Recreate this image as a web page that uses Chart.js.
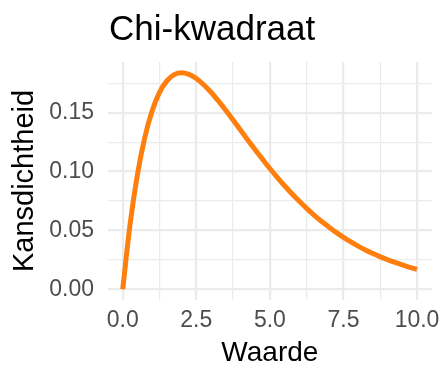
<!DOCTYPE html>
<html>
<head>
<meta charset="utf-8">
<script src="https://cdn.jsdelivr.net/npm/chart.js@4.4.0/dist/chart.umd.min.js"></script>
<style>
    html, body { margin: 0; padding: 0; background: #ffffff; }
    #wrap { width: 447px; height: 384px; position: relative; }
</style>
</head>
<body>
<div id="wrap"><canvas id="chiChart"></canvas></div>
<script>
// Waarden
const xValues = [0, 0.25, 0.5, 0.75, 1, 1.25, 1.5, 1.75, 2, 2.25, 2.5, 2.75, 3, 3.25, 3.5, 3.75,
    4, 4.25, 4.5, 4.75, 5, 5.25, 5.5, 5.75, 6, 6.25, 6.5, 6.75, 7, 7.25, 7.5, 7.75,
    8, 8.25, 8.5, 8.75, 9, 9.25, 9.5, 9.75, 10];
const densityValues = [0, 0.0552, 0.0974, 0.1289, 0.1516, 0.1673, 0.1771, 0.1824, 0.1839, 0.1826,
    0.1791, 0.1738, 0.1674, 0.1600, 0.1521, 0.1438, 0.1353, 0.1269, 0.1186, 0.1105,
    0.1026, 0.0951, 0.0879, 0.0811, 0.0747, 0.0687, 0.0630, 0.0577, 0.0529, 0.0483,
    0.0441, 0.0402, 0.0366, 0.0333, 0.0303, 0.0275, 0.0250, 0.0227, 0.0206, 0.0186, 0.0168];
const xTicks = [0, 1.25, 2.5, 3.75, 5, 6.25, 7.5, 8.75, 10];
const yTicks = [0, 0.025, 0.05, 0.075, 0.1, 0.125, 0.15, 0.175];
const xMajor = [0, 2.5, 5, 7.5, 10];
const yMajor = [0, 0.05, 0.1, 0.15];

const gridColor = '#EBEBEB';
const tickColor = '#4D4D4D';
const fontFamily = '"Liberation Sans", Arial, sans-serif';

const isMajor = (list, v) => list.some(m => Math.abs(m - v) < 1e-9);

// Titel linksboven, uitgelijnd met het paneel
const titlePlugin = {
    id: 'ggTitle',
    afterDraw(chart) {
        const ctx = chart.ctx;
        ctx.save();
        ctx.fillStyle = '#000000';
        ctx.font = '35px ' + fontFamily;
        ctx.textAlign = 'left';
        ctx.textBaseline = 'alphabetic';
        ctx.fillText('Chi-kwadraat', chart.chartArea.left + 1, 40);
        ctx.restore();
    }
};

new Chart(document.getElementById('chiChart'), {
    type: 'line',
    data: {
        datasets: [{
            label: 'Chi-kwadraat',
            data: xValues.map((x, i) => ({ x: x, y: densityValues[i] })),
            borderColor: '#FF7F0E',
            borderWidth: 5,
            borderCapStyle: 'butt',
            pointRadius: 0,
            fill: false,
            cubicInterpolationMode: 'monotone'
        }]
    },
    options: {
        responsive: true,
        maintainAspectRatio: false,
        animation: false,
        layout: { padding: { top: 62, right: 13, left: 0, bottom: 0 } },
        plugins: {
            legend: { display: false },
            tooltip: { enabled: false },
            title: { display: false }
        },
        scales: {
            x: {
                type: 'linear',
                min: -0.5,
                max: 10.5,
                border: { display: false },
                afterBuildTicks: scale => { scale.ticks = xTicks.map(v => ({ value: v })); },
                afterFit: scale => { scale.height = 84; },
                grid: {
                    color: gridColor,
                    drawTicks: false,
                    lineWidth: c => (c.tick && isMajor(xMajor, c.tick.value)) ? 2.2 : 1.2
                },
                ticks: {
                    autoSkip: false,
                    maxRotation: 0,
                    padding: 7,
                    color: tickColor,
                    font: { size: 23, family: fontFamily },
                    callback: v => isMajor(xMajor, v) ? v.toFixed(1) : ''
                },
                title: {
                    display: true,
                    text: 'Waarde',
                    color: '#000000',
                    font: { size: 28, family: fontFamily },
                    padding: { top: 2, bottom: 14 }
                }
            },
            y: {
                type: 'linear',
                min: -0.0092,
                max: 0.1931,
                border: { display: false },
                afterBuildTicks: scale => { scale.ticks = yTicks.map(v => ({ value: v })); },
                afterFit: scale => { scale.width = 108; },
                grid: {
                    color: gridColor,
                    drawTicks: false,
                    lineWidth: c => (c.tick && isMajor(yMajor, c.tick.value)) ? 2.2 : 1.2
                },
                ticks: {
                    autoSkip: false,
                    padding: 14,
                    color: tickColor,
                    font: { size: 23, family: fontFamily },
                    callback: v => isMajor(yMajor, v) ? v.toFixed(2) : ''
                },
                title: {
                    display: true,
                    text: 'Kansdichtheid',
                    color: '#000000',
                    font: { size: 29, family: fontFamily },
                    padding: { top: 8, bottom: 0 }
                }
            }
        }
    },
    plugins: [titlePlugin]
});
</script>
</body>
</html>
